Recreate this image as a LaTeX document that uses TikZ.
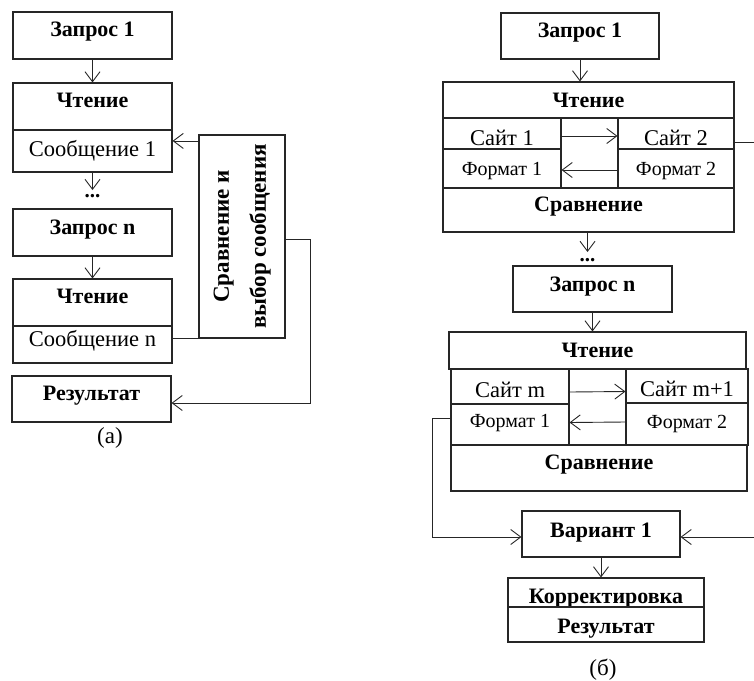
\documentclass[tikz,border=0pt]{standalone}
\usepackage{fontspec}
\setmainfont{Liberation Serif}
\usepackage{graphicx}
\usetikzlibrary{arrows.meta,calc}
\tikzset{
  box/.style={draw=black!85, line width=1.1pt, inner sep=0pt, anchor=center},
  wh/.style 2 args={minimum width=#1pt, minimum height=#2pt},
  bt/.style={font=\fontsize{22}{26}\selectfont\bfseries},
  rt/.style={font=\fontsize{22.5}{26}\selectfont},
  st/.style={font=\fontsize{20}{24}\selectfont},
  tup/.style={text height=14pt, text depth=#1pt},
  tdn/.style={text height=#1pt, text depth=0pt},
  dots/.style={font=\fontsize{21}{25}\selectfont\bfseries, inner sep=0pt, anchor=base},
  lbl/.style={font=\fontsize{23}{27}\selectfont, inner sep=0pt},
  conn/.style={draw=black!85, line width=0.9pt},
  arr/.style={conn, -{Straight Barb[length=10pt,width=15pt]}},
}
\begin{document}
\begin{tikzpicture}[x=1pt,y=-1pt]
\useasboundingbox (0,0) rectangle (754,680);
% ---------- (a) ----------
\node[box,wh={159}{47},bt,tup=12] (q1a) at (92.5,35.5) {Запрос 1};
\node[box,wh={159}{47},bt,tup=12] (r1a) at (92.5,106.5) {Чтение};
\node[box,wh={159}{42},rt,tup=4] (m1a) at (92.5,151) {Сообщение 1};
\coordinate (d1a) at (92.5,190);
\node[dots] (t1a) at (92.5,197.5) {...};
\node[box,wh={159}{47},bt,tup=10] (qna) at (92.5,232.5) {Запрос n};
\node[box,wh={159}{47},bt,tup=12] (rna) at (92.5,302.5) {Чтение};
\node[box,wh={159}{37},rt,tup=11] (mna) at (92.5,344.5) {Сообщение n};
\node[box,wh={159}{46},bt,tup=12] (resa) at (91.5,399) {Результат};
\node[box,wh={86}{203},font=\fontsize{23}{27}\selectfont\bfseries] (cmpa) at (242,236.5)
  {\rotatebox{90}{\begin{tabular}{@{}c@{}}Сравнение и\\[10pt]выбор сообщения\end{tabular}}};
\node[lbl] (la) at (110,438) {(а)};
\draw[arr] (q1a) -- (r1a);
\draw[arr] (m1a.south) -- (d1a);
\coordinate (c1) at ($(cmpa.north west)+(0,6.5)$);
\draw[arr] (c1) -- (c1 -| m1a.east);
\draw[arr] (qna) -- (rna);
\draw[conn] (cmpa.south west) -- (cmpa.south west -| mna.east);
\draw[arr] ([yshift=-2.5pt]cmpa.east) -- ++(25,0) |- ([yshift=-4pt]resa.east);
% ---------- (b) ----------
\node[box,wh={158}{46},bt,tup=12] (q1b) at (580,36) {Запрос 1};
\node[box,wh={291}{36},bt,tup=0] (rb1) at (588.5,100) {Чтение};
\node[box,wh={118}{31},rt,tdn=24] (s1) at (502,133.5) {Сайт 1};
\node[box,wh={118}{39},st,tdn=13] (f1) at (502,168.5) {Формат 1};
\node[box,wh={57}{70}] (mid1) at (589.5,153) {};
\node[box,wh={116}{31},rt,tdn=24] (s2) at (676,133.5) {Сайт 2};
\node[box,wh={116}{39},st,tdn=13] (f2) at (676,168.5) {Формат 2};
\node[box,wh={291}{44},bt,tup=11] (cmp1) at (588.5,210) {Сравнение};
\coordinate (d2) at (587.5,252);
\node[dots] (t2) at (587.5,261) {...};
\node[box,wh={159}{46},bt,tup=9] (qnb) at (592.5,289) {Запрос n};
\node[box,wh={297}{37},bt,tup=0] (rb2) at (597.5,350.5) {Чтение};
\node[box,wh={118}{35},rt,tdn=21] (sm) at (510,386.5) {Сайт m};
\node[box,wh={118}{41},st,tup=8] (fm1) at (510,424.5) {Формат 1};
\node[box,wh={57}{76}] (mid2) at (597.5,407) {};
\node[box,wh={122}{34},rt,tdn=21] (sm1) at (687,386) {Сайт m+1};
\node[box,wh={122}{42},st,tup=6] (fm2) at (687,424) {Формат 2};
\node[box,wh={296}{46},bt,tup=11] (cmp2) at (599,468) {Сравнение};
\node[box,wh={158}{46},bt,tup=8] (var) at (601,534) {Вариант 1};
\node[box,wh={196}{29},bt,tdn=21] (kr) at (606,592.5) {Корректировка};
\node[box,wh={196}{35},bt,tdn=17] (resb) at (606,624.5) {Результат};
\node[lbl] (lb) at (603,670) {(б)};
\draw[arr] (q1b.south) -- (q1b.south |- rb1.north);
\draw[arr] ([yshift=-2.5pt]s1.east) -- ([yshift=-2.5pt]s2.west);
\draw[arr] ([yshift=-1.5pt]f2.west) -- ([yshift=-1.5pt]f1.east);
\coordinate (rout) at (754,142);
\draw[conn] (rout -| s2.east) -- (rout);
\draw[arr] (cmp1.south -| d2) -- (d2);
\draw[arr] (qnb.south) -- (qnb.south |- rb2.north);
\draw[arr] ([yshift=-5.5pt]sm.east) -- ([yshift=-5.5pt]sm1.west);
\draw[arr] ([yshift=2pt]fm2.west) -- ([yshift=2pt]fm1.east);
\draw[arr] ([yshift=6.5pt]fm1.west) -- ++(-18,0) |- ([yshift=-3pt]var.west);
\coordinate (rin) at (754,537);
\draw[arr] (rin) -- (rin -| var.east);
\draw[arr] (var.south) -- (var.south |- kr.north);
\end{tikzpicture}
\end{document}
